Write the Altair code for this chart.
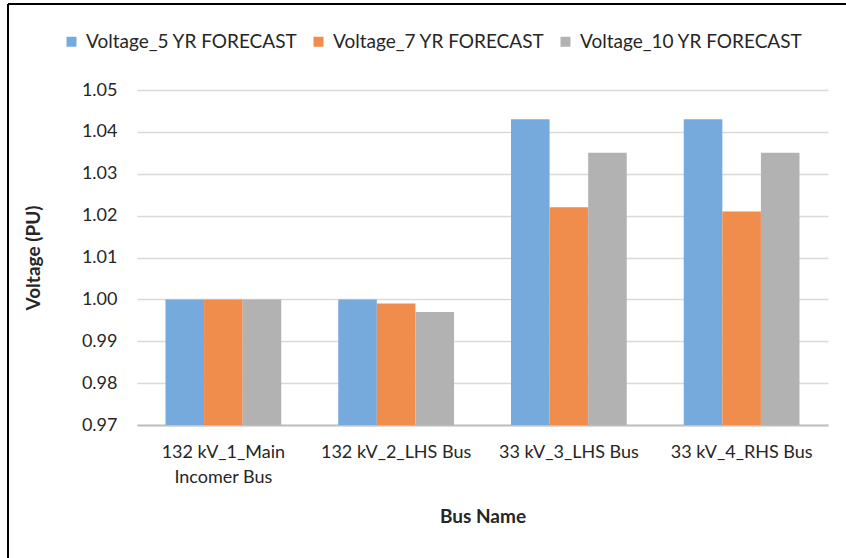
import altair as alt
import pandas as pd

# Bus names (line break marks a wrapped axis label)
buses = ["132 kV_1_Main\nIncomer Bus", "132 kV_2_LHS Bus", "33 kV_3_LHS Bus", "33 kV_4_RHS Bus"]
series = ["Voltage_5 YR FORECAST", "Voltage_7 YR FORECAST", "Voltage_10 YR FORECAST"]

# Per-unit bus voltages for each forecast horizon
v5 = [1.000, 1.000, 1.043, 1.043]
v7 = [1.000, 0.999, 1.022, 1.021]
v10 = [1.000, 0.997, 1.035, 1.035]

colors = ["#76aadc", "#f08c4c", "#b2b2b2"]
y_ticks = [0.97, 0.98, 0.99, 1.00, 1.01, 1.02, 1.03, 1.04, 1.05]

rows = []
for name, vals in zip(series, [v5, v7, v10]):
    for bus, v in zip(buses, vals):
        rows.append({"bus": bus, "series": name, "voltage": v})
df = pd.DataFrame(rows)

FONT = "Lato"
TEXT = "#262626"
W, H = 691, 335

bars = alt.Chart(df).mark_bar(strokeWidth=0).encode(
    x=alt.X(
        "bus:N",
        sort=buses,
        scale=alt.Scale(paddingInner=0.33, paddingOuter=0.165),
        axis=alt.Axis(
            title="Bus Name",
            labelAngle=0,
            labelExpr="split(datum.label, '\\n')",
            labelPadding=18,
            labelLineHeight=25,
            ticks=False,
            domainColor="#bfbfbf",
            domainWidth=2,
            titlePadding=21,
        ),
    ),
    xOffset=alt.XOffset("series:N", sort=series, scale=alt.Scale(domain=series, paddingInner=0, paddingOuter=0)),
    y=alt.Y(
        "voltage:Q",
        scale=alt.Scale(domain=[0.97, 1.05], zero=False, nice=False),
        axis=alt.Axis(
            title="Voltage (PU)",
            values=y_ticks,
            format=".2f",
            ticks=False,
            domain=False,
            gridColor="#d9d9d9",
            gridWidth=1.5,
            labelPadding=20,
            titlePadding=38,
        ),
    ),
    y2=alt.Y2Datum(0.97),
    color=alt.Color(
        "series:N",
        scale=alt.Scale(domain=series, range=colors),
        legend=alt.Legend(
            title=None,
            orient="none",
            direction="horizontal",
            legendX=-75,
            legendY=-58,
            symbolType="square",
            symbolSize=100,
            symbolStrokeWidth=0,
            labelOffset=5,
            columnPadding=11,
        ),
    ),
)

# Chart frame along the top and left edges
frame_top = alt.Chart(df).mark_rule(color="#000000", strokeWidth=2).encode(
    x=alt.value(-129), x2=alt.value(W + 30), y=alt.value(-86)
)
frame_left = alt.Chart(df).mark_rule(color="#000000", strokeWidth=2).encode(
    x=alt.value(-129), y=alt.value(-86), y2=alt.value(H + 140)
)

chart = (
    alt.layer(bars, frame_top, frame_left)
    .properties(
        width=W,
        height=H,
        autosize=alt.AutoSizeParams(type="none"),
        padding={"left": 137, "top": 90, "right": 18, "bottom": 133},
        background="white",
    )
    .configure_view(stroke=None)
    .configure_axis(
        labelFont=FONT,
        titleFont=FONT,
        labelFontSize=18,
        titleFontSize=19,
        labelColor=TEXT,
        titleColor=TEXT,
        titleFontWeight="bold",
    )
    .configure_legend(labelFont=FONT, labelFontSize=19, labelColor=TEXT, labelLimit=400)
)

chart.save("out.html", embed_options={"renderer": "svg", "actions": False})
